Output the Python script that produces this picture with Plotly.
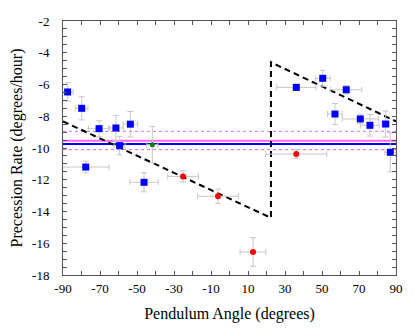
import plotly.graph_objects as go

# blue points
blue_x = [-87.5, -79.9, -70.5, -61.4, -53.6, -59.4, -77.7, -46.2, 36.1, 50.4, 63.1, 57.0, 70.7, 75.9, 84.4, 86.9]
blue_y = [-6.47, -7.5, -8.78, -8.74, -8.5, -9.85, -11.2, -12.16, -6.18, -5.61, -6.33, -7.86, -8.17, -8.57, -8.49, -10.27]
blue_xerr = [3, 3.4, 5.8, 4, 4, 3, 12.6, 7.7, 10.6, 4, 8.4, 4, 9.8, 5, 2, 3]
blue_yerr = [0.58, 0.73, 0.5, 0.8, 0.8, 0.58, 0.37, 0.6, 0.2, 0.5, 0.27, 0.66, 0.3, 0.68, 0.82, 1.23]

# red points
red_x = [-25.1, -6.2, 12.7, 36.1]
red_y = [-11.79, -13.04, -16.55, -10.38]
red_xerr = [8.3, 11, 7, 16.5]
red_yerr = [0.35, 0.45, 0.9, 0.27]

# green point
green_x = [-41.7]
green_y = [-9.79]
green_xerr = [3]
green_yerr = [1.15]

# model (dashed sawtooth)
model_x = [-90, 22.4, 22.4, 90]
model_y = [-8.32, -14.4, -4.6, -8.32]

# horizontal reference lines
mean_blue = -9.75
mean_pink = -9.55
pink_lo = -10.1
pink_hi = -8.95

err_col = "#c8c8c8"

fig = go.Figure()

for yv, col, w, dash in [(pink_hi, "#e070e0", 1, "dot"), (pink_lo, "#e070e0", 1, "dot"),
                         (mean_pink, "#ff66ff", 2, "solid"), (mean_blue, "#0000ff", 2, "solid")]:
    fig.add_trace(go.Scatter(x=[-90, 90], y=[yv, yv], mode="lines",
                             line=dict(color=col, width=w, dash=dash), showlegend=False))

fig.add_trace(go.Scatter(x=model_x, y=model_y, mode="lines",
                         line=dict(color="black", width=2, dash="6px,4px"), showlegend=False))

def pts(x, y, xe, ye, col, sym, size):
    return go.Scatter(
        x=x, y=y, mode="markers",
        marker=dict(color=col, symbol=sym, size=size),
        error_x=dict(type="data", array=xe, color=err_col, thickness=1, width=3),
        error_y=dict(type="data", array=ye, color=err_col, thickness=1, width=3),
        showlegend=False)

fig.add_trace(pts(blue_x, blue_y, blue_xerr, blue_yerr, "#0000ff", "square", 7))
fig.add_trace(pts(red_x, red_y, red_xerr, red_yerr, "#ff0000", "circle", 6))
fig.add_trace(pts(green_x, green_y, green_xerr, green_yerr, "#008000", "circle", 5))

xt = list(range(-90, 91, 10))
xl = [str(v) if (v + 90) % 20 == 0 else "" for v in xt]
yt = [-18 + 0.5 * i for i in range(33)]
yl = [str(int(v)) if v == int(v) and int(v) % 2 == 0 else "" for v in yt]

fig.update_xaxes(range=[-90, 90], tickvals=xt, ticktext=xl, ticks="inside", ticklen=4,
                 tickcolor="#555555", showline=True, linecolor="#555555", linewidth=1,
                 mirror="ticks", showgrid=False, zeroline=False, ticklabelstandoff=1,
                 automargin=False,
                 title=dict(text="Pendulum Angle (degrees)", standoff=13))
fig.update_yaxes(range=[-18, -2], tickvals=yt, ticktext=yl, ticks="inside", ticklen=4,
                 tickcolor="#555555", showline=True, linecolor="#555555", linewidth=1,
                 mirror="ticks", showgrid=False, zeroline=False, ticklabelstandoff=10,
                 automargin=False,
                 title=dict(text="Precession Rate (degrees/hour)", standoff=10))

fig.update_layout(
    width=415, height=328,
    margin=dict(l=55, r=27, t=13, b=61),
    plot_bgcolor="white", paper_bgcolor="white",
    font=dict(family="Liberation Serif", size=13, color="black"),
)

fig.write_html("out.html")
